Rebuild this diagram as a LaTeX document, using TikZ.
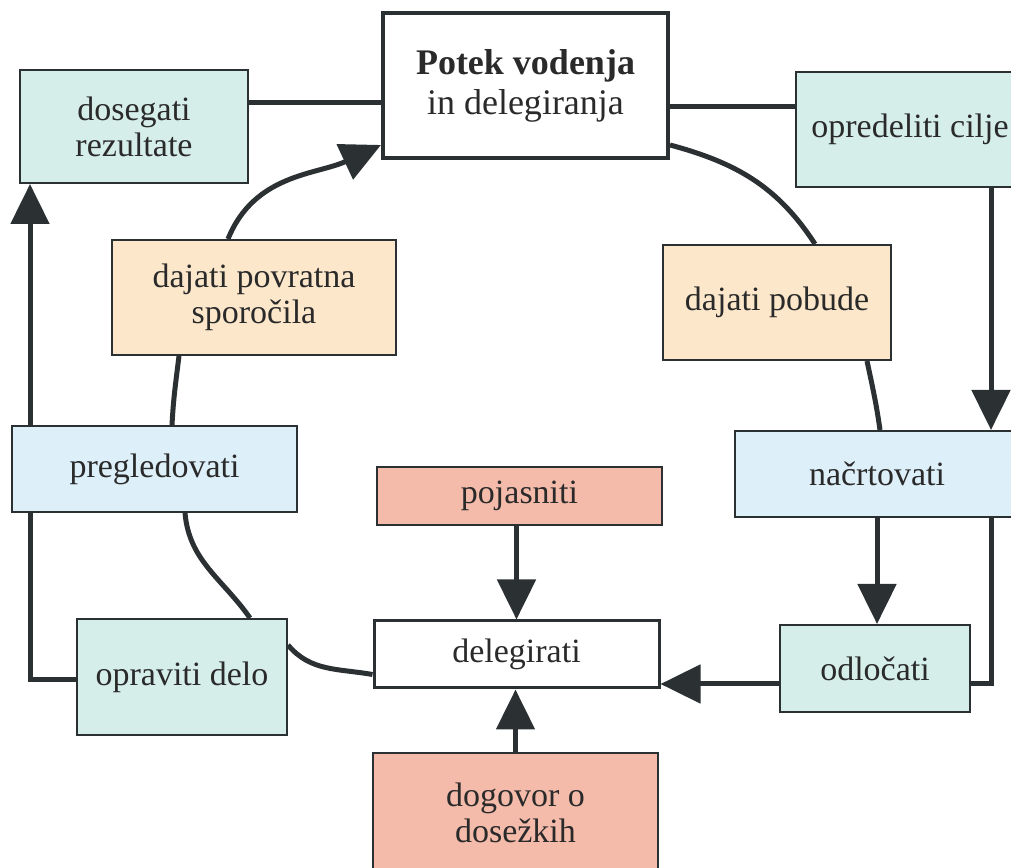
\documentclass[tikz,border=0pt]{standalone}
\usepackage{fontspec}
\setmainfont{Liberation Serif}
\usetikzlibrary{arrows.meta}
\definecolor{tealC}{HTML}{D6EEE9}
\definecolor{peachC}{HTML}{FCE7CB}
\definecolor{blueC}{HTML}{DDEFF8}
\definecolor{salmonC}{HTML}{F4BBAA}
\definecolor{lineC}{HTML}{2B3133}
\definecolor{txtC}{HTML}{2A2A2A}
\pgfdeclarelayer{background}
\pgfsetlayers{background,main}
\begin{document}
\begin{tikzpicture}[x=1pt,y=1pt,
  box/.style={draw=lineC, line width=2pt, inner sep=0pt, align=center,
    font=\fontsize{34}{36}\selectfont, text=txtC},
  conn/.style={draw=lineC, line width=5pt},
  arr/.style={conn, -{Triangle[length=40pt,width=38pt]}},
]
\useasboundingbox (0,0) rectangle (1011,867);
\clip (0,0) rectangle (1011,867);

\node[box, line width=4pt, fill=white, minimum width=285pt, minimum height=145pt,
  font=\fontsize{36}{40}\selectfont] (potek) at (525.5,781.5) {\textbf{Potek vodenja}\\in delegiranja};
\node[box, fill=tealC, minimum width=228pt, minimum height=113pt] (dosegati) at (134,740.5) {dosegati\\rezultate};
\node[box, fill=tealC, minimum width=228pt, minimum height=115pt] (opred) at (910,737.5) {opredeliti cilje};
\node[box, fill=peachC, minimum width=284pt, minimum height=115pt] (povr) at (254,569.5) {dajati povratna\\sporočila};
\node[box, fill=peachC, minimum width=228pt, minimum height=115pt] (pobude) at (777,564.5) {dajati pobude};
\node[box, fill=blueC, minimum width=285pt, minimum height=86pt] (pregl) at (154.5,398) {pregledovati};
\node[box, fill=blueC, minimum width=284pt, minimum height=86pt] (nacrt) at (877,393) {načrtovati};
\node[box, fill=salmonC, minimum width=285pt, minimum height=58pt] (pojas) at (519.5,371) {pojasniti};
\node[box, line width=3pt, fill=white, minimum width=285pt, minimum height=67pt] (deleg) at (516.5,212.5) {delegirati};
\node[box, fill=tealC, minimum width=210pt, minimum height=116pt] (oprav) at (182,190) {opraviti delo};
\node[box, fill=tealC, minimum width=190pt, minimum height=87pt] (odloc) at (875,198.5) {odločati};
\node[box, fill=salmonC, minimum width=285pt, minimum height=120pt] (dogov) at (515.5,54) {dogovor o\\dosežkih};

\begin{pgfonlayer}{background}
% straight connectors
\draw[conn] ([yshift=23.5pt]dosegati.east) -- ([yshift=23.5pt]dosegati.east -| potek.west);
\draw[conn] ([yshift=22.5pt]opred.west -| potek.east) -- ([yshift=22.5pt]opred.west);
\draw[arr] ([xshift=81pt]opred.south) -- ([xshift=81pt]opred.south |- nacrt.north);
\draw[conn] ([xshift=114pt]nacrt.south) |- ([yshift=-15.5pt]odloc.east);
\draw[arr] (nacrt.south) -- (nacrt.south |- odloc.north);
\draw[arr] ([yshift=-15.5pt]odloc.west) -- ([yshift=-15.5pt]odloc.west -| deleg.east);
\draw[arr] (deleg.north |- pojas.south) -- (deleg.north);
\draw[arr] (dogov.north) -- (dogov.north |- deleg.south);
\draw[arr] ([yshift=-3pt]oprav.west) -| ([xshift=-104pt]dosegati.south);
% cycle arcs
\draw[arr] ([xshift=-26pt]povr.north) to[out=68,in=205] ([yshift=-59.5pt]potek.west);
\draw[conn] ([yshift=-59.5pt]potek.east) to[out=-15,in=123] ([xshift=38pt]pobude.north);
\draw[conn] ([xshift=90pt]pobude.south) to[out=-78,in=98] ([xshift=3pt]nacrt.north);
\draw[conn] ([xshift=-75pt]povr.south) to[out=-97,in=87] ([xshift=17.5pt]pregl.north);
\draw[conn] ([xshift=30.5pt]pregl.south) to[out=-85,in=125] ([xshift=68pt]oprav.north);
\draw[conn] ([yshift=32pt]oprav.east) to[out=-50,in=170] ([yshift=-20pt]deleg.west);
\end{pgfonlayer}
\end{tikzpicture}
\end{document}
